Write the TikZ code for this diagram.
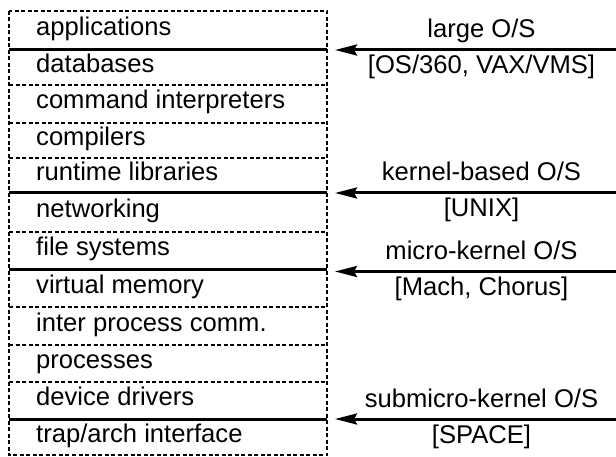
\documentclass[tikz,border=0pt]{standalone}
\usepackage{fontspec}
\setmainfont{Liberation Sans}
\usetikzlibrary{arrows.meta}

\tikzset{
  layerline/.style={draw=black, line width=1.2pt, dash pattern=on 4pt off 2.5pt},
  layertext/.style={anchor=base west, inner sep=0pt, font=\fontsize{25.6}{30}\selectfont},
  boundary/.style={draw=black, line width=3pt},
  osarrow/.style={draw=black, line width=3pt, -{Stealth[length=22pt,width=11pt,inset=3pt]}},
  oslabel/.style={anchor=base, inner sep=0pt, font=\fontsize{25.6}{30}\selectfont},
}

\begin{document}
\begin{tikzpicture}[x=1pt,y=-1pt]
\useasboundingbox (0,0) rectangle (616,457);

% outline of the layer stack
\draw[layerline] (9,11) rectangle (327,455);

% dashed separators between ordinary layers
\foreach \y in {85,123,158,232,307,345,382}
  \draw[layerline] (9,\y) -- (327,\y);

% the layers: top edge, bottom edge, name, text
\foreach \top/\bot/\nm/\txt in {
  11/50/r1/applications,
  50/85/r2/databases,
  85/123/r3/command interpreters,
  123/158/r4/compilers,
  158/193/r5/runtime libraries,
  193/232/r6/networking,
  232/270/r7/file systems,
  270/307/r8/virtual memory,
  307/345/r9/inter process comm.,
  345/382/r10/processes,
  382/419/r11/device drivers,
  419/455/r12/trap\slash arch interface}{
  \node[layertext] (\nm) at (36,{(\top+\bot)/2+5}) {\txt};
}

% interfaces exported by each kind of operating system
\foreach \y/\ya/\nm/\above/\below in {
  50/50/large/large O\slash S/{[OS\slash 360, VAX\slash VMS]},
  193/193/kernel/kernel-based O\slash S/[UNIX],
  270/271.5/micro/micro-kernel O\slash S/{[Mach, Chorus]},
  419/419/submicro/submicro-kernel O\slash S/[SPACE]}{
  \draw[boundary] (9,\y) -- (327,\y);
  \coordinate (\nm-from) at (616,\ya);
  \coordinate (\nm-to) at (335,\ya);
  \draw[osarrow] (\nm-from) -- (\nm-to);
  \node[oslabel] (\nm-name) at (481.5,\ya-12) {\above};
  \node[oslabel] (\nm-ex) at (481.5,\ya+24) {\below};
}
\end{tikzpicture}
\end{document}
